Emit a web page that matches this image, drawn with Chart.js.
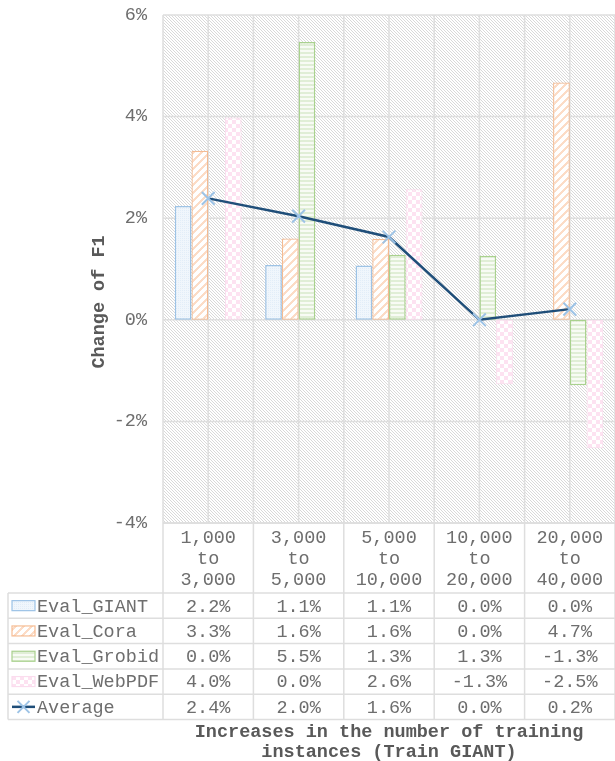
<!DOCTYPE html>
<html>
<head>
<meta charset="utf-8">
<script src="https://cdn.jsdelivr.net/npm/chart.js@4.4.1/dist/chart.umd.min.js"></script>
<style>
    html, body { margin: 0; padding: 0; background: #fff; overflow: hidden; }
    canvas { display: block; }
</style>
</head>
<body>
<canvas id="chart" width="615" height="761"></canvas>
<script>
// categories (train size steps) and series values in % change of F1
const categoryFrom = ['1,000', '3,000', '5,000', '10,000', '20,000'];
const categoryTo = ['3,000', '5,000', '10,000', '20,000', '40,000'];
const evalGiant = [2.24, 1.08, 1.07, 0, 0];
const evalCora = [3.33, 1.6, 1.59, 0, 4.67];
const evalGrobid = [0, 5.47, 1.28, 1.26, -1.29];
const evalWebPdf = [3.98, 0, 2.57, -1.27, -2.53];
const average = [2.39, 2.04, 1.63, 0, 0.21];
const yTicks = [-4, -2, 0, 2, 4, 6];

const textColor = '#6e6e6e';
const titleColor = '#595959';
const gridColor = '#dedede';
const monoFont = '"Liberation Mono", "Courier New", monospace';
const fontSize = 18.5;

function makePattern(size, paint) {
    const c = document.createElement('canvas');
    c.width = size;
    c.height = size;
    const g = c.getContext('2d');
    paint(g, size);
    return g.createPattern(c, 'repeat');
}

// plot area hatch (thin "\" lines)
const hatchBg = makePattern(3, (g, s) => {
    g.fillStyle = '#ffffff';
    g.fillRect(0, 0, s, s);
    g.fillStyle = '#d9d9d9';
    for (let i = 0; i < s; i++) g.fillRect(i, i, 1, 1);
});

const giantFill = makePattern(2, (g, s) => {
    g.fillStyle = '#f0f6fc';
    g.fillRect(0, 0, s, s);
    g.fillStyle = '#e2edf8';
    g.fillRect(0, 0, 1, 1);
});

const coraFill = makePattern(8, (g, s) => {
    g.fillStyle = '#ffffff';
    g.fillRect(0, 0, s, s);
    g.fillStyle = '#fcdcc6';
    for (let x = 0; x < s; x++) {
        for (let y = 0; y < s; y++) {
            if ((x + y) % 8 < 3) g.fillRect(x, y, 1, 1);
        }
    }
});

const grobidFill = makePattern(4, (g, s) => {
    g.fillStyle = '#f8fbf5';
    g.fillRect(0, 0, s, s);
    g.fillStyle = '#e0eed6';
    g.fillRect(0, 0, s, 2);
});

const webPdfFill = makePattern(8, (g, s) => {
    g.fillStyle = '#ffffff';
    g.fillRect(0, 0, s, s);
    g.fillStyle = '#fde2f1';
    g.fillRect(0, 0, 4, 4);
    g.fillRect(4, 4, 4, 4);
});

const tablePlugin = {
    id: 'excelTable',
    beforeDatasetsDraw(chart) {
        const { ctx, chartArea: a, scales: { y } } = chart;
        const catW = (a.right - a.left) / categoryFrom.length;
        ctx.save();
        ctx.fillStyle = hatchBg;
        ctx.fillRect(a.left, a.top, a.right - a.left, a.bottom - a.top);
        ctx.strokeStyle = gridColor;
        ctx.lineWidth = 1.5;
        ctx.beginPath();
        for (let i = 0; i <= categoryFrom.length * 2; i++) {
            const px = a.left + i * catW / 2;
            ctx.moveTo(px, a.top);
            ctx.lineTo(px, a.bottom);
        }
        yTicks.forEach(v => {
            const py = y.getPixelForValue(v);
            ctx.moveTo(a.left, py);
            ctx.lineTo(a.right, py);
        });
        ctx.stroke();
        ctx.restore();
    },
    afterDraw(chart) {
        const { ctx, chartArea: a, scales: { x } } = chart;
        const catW = (a.right - a.left) / categoryFrom.length;
        const headTop = a.bottom;
        const headBottom = a.bottom + 70;
        const rowH = 25.3;
        const legendLeft = 8;
        const rows = chart.data.datasets;
        const tableBottom = headBottom + rowH * rows.length;

        ctx.save();
        ctx.strokeStyle = gridColor;
        ctx.lineWidth = 1.5;
        ctx.beginPath();
        for (let i = 0; i <= categoryFrom.length; i++) {
            const px = a.left + i * catW;
            ctx.moveTo(px, headTop);
            ctx.lineTo(px, tableBottom);
        }
        ctx.moveTo(legendLeft, headBottom);
        ctx.lineTo(legendLeft, tableBottom);
        ctx.moveTo(a.left, headTop);
        ctx.lineTo(a.right, headTop);
        for (let r = 0; r <= rows.length; r++) {
            const py = headBottom + r * rowH;
            ctx.moveTo(legendLeft, py);
            ctx.lineTo(a.right, py);
        }
        ctx.stroke();

        ctx.fillStyle = textColor;
        ctx.font = fontSize + 'px ' + monoFont;
        ctx.textAlign = 'center';
        ctx.textBaseline = 'middle';
        categoryFrom.forEach((from, i) => {
            const cx = x.getPixelForValue(i);
            ctx.fillText(from, cx, headTop + 15);
            ctx.fillText('to', cx, headTop + 36);
            ctx.fillText(categoryTo[i], cx, headTop + 57);
        });

        rows.forEach((ds, r) => {
            const cy = headBottom + r * rowH + rowH / 2;
            ds.data.forEach((v, i) => {
                ctx.fillStyle = textColor;
                ctx.textAlign = 'center';
                ctx.fillText(v.toFixed(1) + '%', x.getPixelForValue(i), cy + 1);
            });
            // legend key
            if (ds.type === 'line') {
                ctx.strokeStyle = ds.borderColor;
                ctx.lineWidth = 2.5;
                ctx.beginPath();
                ctx.moveTo(12, cy);
                ctx.lineTo(35, cy);
                ctx.stroke();
                ctx.strokeStyle = ds.pointBorderColor;
                ctx.lineWidth = 2;
                ctx.beginPath();
                ctx.moveTo(17.5, cy - 6);
                ctx.lineTo(29.5, cy + 6);
                ctx.moveTo(17.5, cy + 6);
                ctx.lineTo(29.5, cy - 6);
                ctx.stroke();
            } else {
                ctx.fillStyle = ds.backgroundColor;
                ctx.fillRect(12, cy - 5, 23, 10);
                ctx.strokeStyle = ds.borderColor;
                ctx.lineWidth = 1.2;
                ctx.strokeRect(12, cy - 5, 23, 10);
            }
            ctx.fillStyle = textColor;
            ctx.textAlign = 'left';
            ctx.fillText(ds.label, 37, cy + 1);
        });

        // axis titles
        ctx.font = 'bold ' + fontSize + 'px ' + monoFont;
        ctx.fillStyle = titleColor;
        ctx.textAlign = 'center';
        const midX = (a.left + a.right) / 2;
        ctx.fillText('Increases in the number of training', midX, 732);
        ctx.fillText('instances (Train GIANT)', midX, 752);
        ctx.translate(99, 302);
        ctx.rotate(-Math.PI / 2);
        ctx.fillText('Change of F1', 0, 0);
        ctx.restore();
    }
};

function barSet(label, data, fill, border, width) {
    return {
        type: 'bar',
        label: label,
        data: data,
        backgroundColor: fill,
        borderColor: border,
        borderWidth: width,
        borderSkipped: false,
        categoryPercentage: 0.74,
        barPercentage: 1.0,
        order: 1
    };
}

const ctx = document.getElementById('chart').getContext('2d');
new Chart(ctx, {
    type: 'bar',
    data: {
        labels: categoryFrom.map((f, i) => f + ' to ' + categoryTo[i]),
        datasets: [
            barSet('Eval_GIANT', evalGiant, giantFill, '#9dc3e6', 1.5),
            barSet('Eval_Cora', evalCora, coraFill, 'rgba(244, 177, 131, 0.85)', 1.3),
            barSet('Eval_Grobid', evalGrobid, grobidFill, '#a9d18e', 1.5),
            barSet('Eval_WebPDF', evalWebPdf, webPdfFill, '#fbdcee', 1),
            {
                type: 'line',
                label: 'Average',
                data: average,
                borderColor: '#1f4e79',
                borderWidth: 2.5,
                pointStyle: 'crossRot',
                pointRadius: 9,
                pointBorderColor: '#9dc3e6',
                pointBorderWidth: 2,
                pointBackgroundColor: '#9dc3e6',
                fill: false,
                tension: 0,
                order: 0
            }
        ]
    },
    options: {
        responsive: false,
        animation: false,
        devicePixelRatio: 1,
        layout: {
            autoPadding: false,
            padding: { top: 15, right: 0, bottom: 238, left: 0 }
        },
        plugins: {
            legend: { display: false },
            tooltip: { enabled: false }
        },
        scales: {
            x: {
                display: false,
                offset: true
            },
            y: {
                min: -4,
                max: 6,
                afterFit: scale => {
                    scale.width = 163;
                    scale.paddingTop = 0;
                    scale.paddingBottom = 0;
                },
                afterBuildTicks: scale => { scale.ticks = yTicks.map(v => ({ value: v })); },
                grid: { display: false, drawTicks: false },
                border: { display: false },
                ticks: {
                    padding: 16,
                    color: textColor,
                    font: { family: monoFont, size: fontSize },
                    callback: v => v + '%'
                }
            }
        }
    },
    plugins: [tablePlugin]
});
</script>
</body>
</html>
